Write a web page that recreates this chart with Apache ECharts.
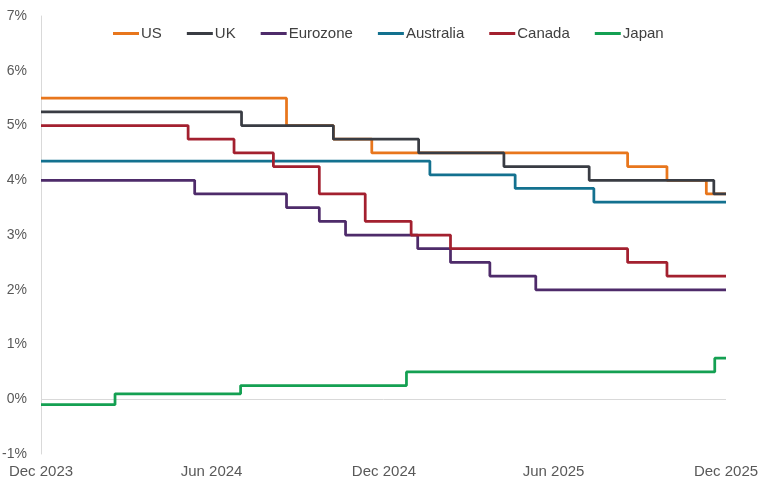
<!DOCTYPE html>
<html>
<head>
<meta charset="utf-8">
<script src="https://cdn.jsdelivr.net/npm/echarts@6/dist/echarts.min.js"></script>
<style>html,body{margin:0;padding:0;background:#fff}#c{width:764px;height:489px}</style>
</head>
<body>
<div id="c"></div>
<script>
// Tick labels
const xTickDates = ['2023-12-31', '2024-06-30', '2024-12-31', '2025-06-30', '2025-12-31'];
const xTickLabels = ['Dec 2023', 'Jun 2024', 'Dec 2024', 'Jun 2025', 'Dec 2025'];
const yTickValues = [-1, 0, 1, 2, 3, 4, 5, 6, 7];

// Policy rates (%), [date of change, new rate]
const US = [['2023-12-31', 5.5], ['2024-09-18', 5.0], ['2024-11-07', 4.75], ['2024-12-18', 4.5], ['2025-09-17', 4.25], ['2025-10-29', 4.0], ['2025-12-10', 3.75], ['2025-12-31', 3.75]];
const UK = [['2023-12-31', 5.25], ['2024-08-01', 5.0], ['2024-11-07', 4.75], ['2025-02-06', 4.5], ['2025-05-08', 4.25], ['2025-08-07', 4.0], ['2025-12-18', 3.75], ['2025-12-31', 3.75]];
const Eurozone = [['2023-12-31', 4.0], ['2024-06-12', 3.75], ['2024-09-18', 3.5], ['2024-10-23', 3.25], ['2024-11-20', 3.0], ['2025-02-05', 2.75], ['2025-03-12', 2.5], ['2025-04-23', 2.25], ['2025-06-11', 2.0], ['2025-12-31', 2.0]];
const Australia = [['2023-12-31', 4.35], ['2025-02-18', 4.1], ['2025-05-20', 3.85], ['2025-08-12', 3.6], ['2025-12-31', 3.6]];
const Canada = [['2023-12-31', 5.0], ['2024-06-05', 4.75], ['2024-07-24', 4.5], ['2024-09-04', 4.25], ['2024-10-23', 3.75], ['2024-12-11', 3.25], ['2025-01-29', 3.0], ['2025-03-12', 2.75], ['2025-09-17', 2.5], ['2025-10-29', 2.25], ['2025-12-31', 2.25]];
const Japan = [['2023-12-31', -0.1], ['2024-03-19', 0.1], ['2024-07-31', 0.25], ['2025-01-24', 0.5], ['2025-12-19', 0.75], ['2025-12-31', 0.75]];

const seriesNames = ['US', 'UK', 'Eurozone', 'Australia', 'Canada', 'Japan'];
const seriesData = [US, UK, Eurozone, Australia, Canada, Japan];
const colors = ['#E8761C', '#393C43', '#4E2B6A', '#13718F', '#A3202F', '#14A052'];

const t = s => new Date(s + 'T00:00:00Z').getTime();
const tickTimes = xTickDates.map(t);

const chart = echarts.init(document.getElementById('c'), null, { renderer: 'canvas' });
const FONT = '"Liberation Sans", Arial, sans-serif';

const series = seriesNames.map((name, i) => ({
  name,
  type: 'line',
  step: 'end',
  showSymbol: false,
  symbol: 'none',
  data: seriesData[i].map(p => [t(p[0]), p[1]]),
  lineStyle: { color: colors[i], width: 2.75 },
  itemStyle: { color: colors[i] },
  z: 3 + i
}));
series[0].markLine = {
  silent: true,
  symbol: 'none',
  label: { show: false },
  lineStyle: { color: '#D9D9D9', width: 1, type: 'solid' },
  data: [{ yAxis: 0 }],
  z: 1
};

chart.setOption({
  animation: false,
  color: colors,
  textStyle: { fontFamily: FONT },
  grid: { left: 41, right: 38, top: 16, bottom: 35, outerBoundsMode: 'none' },
  legend: {
    left: 108,
    top: 21,
    icon: 'rect',
    itemWidth: 26,
    itemHeight: 3,
    itemGap: 25,
    textStyle: { color: '#404040', fontSize: 15, fontFamily: FONT, padding: [0, 0, 0, -3] },
    data: seriesNames
  },
  xAxis: {
    type: 'value',
    min: tickTimes[0],
    max: tickTimes[tickTimes.length - 1],
    axisLine: { show: false },
    axisTick: { show: false },
    splitLine: { show: false },
    axisLabel: {
      customValues: tickTimes,
      formatter: v => { const k = tickTimes.indexOf(v); return k >= 0 ? xTickLabels[k] : ''; },
      color: '#595959',
      fontSize: 15,
      fontFamily: FONT,
      margin: 10,
      hideOverlap: false
    }
  },
  yAxis: {
    type: 'value',
    min: -1,
    max: 7,
    interval: 1,
    axisLine: { show: true, lineStyle: { color: '#D9D9D9', width: 1 } },
    axisTick: { show: false },
    splitLine: { show: false },
    axisLabel: {
      customValues: yTickValues,
      formatter: v => v + '%',
      color: '#595959',
      fontSize: 14,
      fontFamily: FONT,
      margin: 14
    }
  },
  series
});
</script>
</body>
</html>
